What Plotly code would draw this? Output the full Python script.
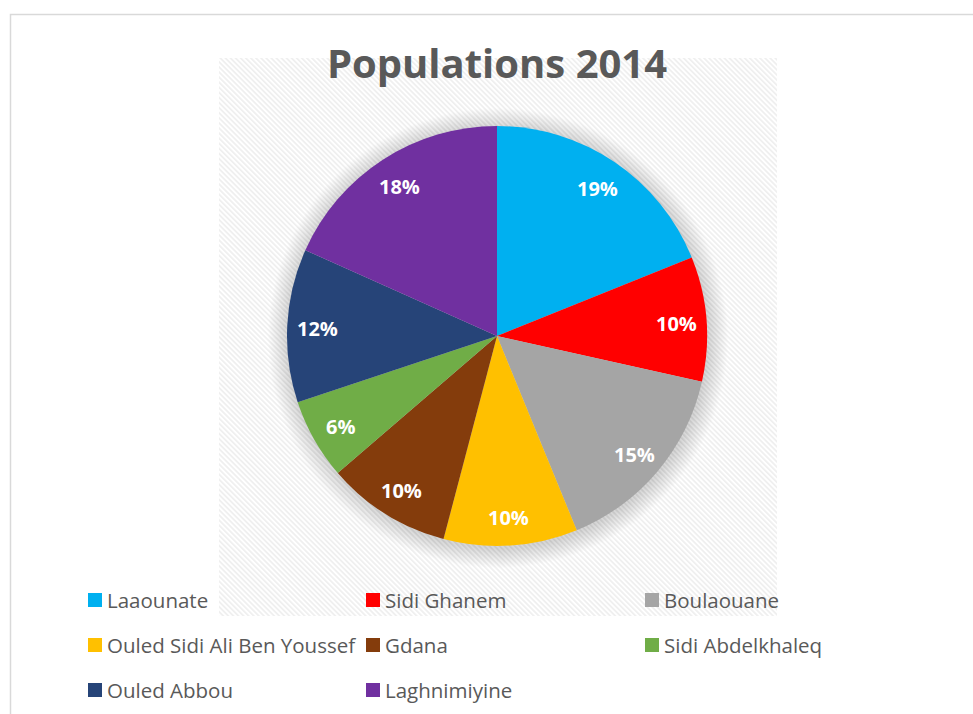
import base64
import math
import plotly.graph_objects as go

# Population share by commune, 2014 (percent of total)
communes = [
    "Laaounate",
    "Sidi Ghanem",
    "Boulaouane",
    "Ouled Sidi Ali Ben Youssef",
    "Gdana",
    "Sidi Abdelkhaleq",
    "Ouled Abbou",
    "Laghnimiyine",
]
shares = [18.9, 9.6, 15.3, 10.3, 9.6, 6.2, 11.8, 18.3]
slice_colors = [
    "#00b0f0",
    "#ff0000",
    "#a5a5a5",
    "#ffc000",
    "#843c0c",
    "#70ad47",
    "#264478",
    "#7030a0",
]
chart_title = "Populations 2014"

W, H = 973, 714


def px_x(v):
    return v / W


def px_y(v):
    return 1 - v / H


# pie geometry in pixels
cx, cy, R = 497, 336, 210
label_r = 180

fig = go.Figure()
fig.add_trace(
    go.Pie(
        labels=communes,
        values=shares,
        sort=False,
        direction="clockwise",
        rotation=0,
        marker=dict(colors=slice_colors, line=dict(width=0)),
        textinfo="none",
        showlegend=False,
        hoverinfo="label+percent",
        domain=dict(x=[px_x(cx - R), px_x(cx + R)], y=[px_y(cy + R), px_y(cy - R)]),
    )
)

# diagonal hatch for the plot-area background
hx0, hy0, hx1, hy1 = 219, 58, 777, 616
hw, hh = hx1 - hx0, hy1 - hy0
svg = (
    f'<svg xmlns="http://www.w3.org/2000/svg" width="{hw}" height="{hh}" '
    f'viewBox="0 0 {hw} {hh}" preserveAspectRatio="none">'
    '<defs><pattern id="h" patternUnits="userSpaceOnUse" width="3.6" height="3.6" '
    'patternTransform="rotate(-45)">'
    '<rect x="0" y="0" width="1.7" height="3.6" fill="#efefef"/></pattern></defs>'
    f'<rect width="{hw}" height="{hh}" fill="#ffffff"/>'
    f'<rect width="{hw}" height="{hh}" fill="url(#h)"/></svg>'
)
src = "data:image/svg+xml;base64," + base64.b64encode(svg.encode()).decode()

shapes = []
# soft outer shadow around the pie
for k in range(1, 21):
    r = R + k
    shapes.append(
        dict(
            type="circle",
            xref="paper",
            yref="paper",
            x0=px_x(cx - r + 1),
            x1=px_x(cx + r + 1),
            y0=px_y(cy + r + 2),
            y1=px_y(cy - r + 2),
            fillcolor="rgba(0,0,0,0.009)",
            line=dict(width=0),
            layer="below",
        )
    )

# chart border
shapes.append(
    dict(
        type="rect",
        xref="paper",
        yref="paper",
        x0=px_x(10.5),
        x1=px_x(W + 5),
        y0=px_y(H + 5),
        y1=px_y(14.5),
        line=dict(color="#d9d9d9", width=1.5),
        fillcolor="rgba(0,0,0,0)",
        layer="above",
    )
)

annotations = []

# percentage labels placed at each slice's mid-angle
total = sum(shares)
cum = 0.0
for v in shares:
    mid = (cum + v / 2) / total * 2 * math.pi
    cum += v
    lx = cx + label_r * math.sin(mid)
    ly = cy + 2 - label_r * math.cos(mid)
    annotations.append(
        dict(
            text=f"{round(100 * v / total)}%",
            xref="paper",
            yref="paper",
            x=px_x(lx),
            y=px_y(ly),
            xanchor="center",
            yanchor="middle",
            showarrow=False,
            font=dict(family="Open Sans", size=20, color="white", weight="bold"),
        )
    )

# legend: three columns of swatch + name
col_swatch = [88, 366, 645]
col_text = [105, 383, 662]
row_y = [600, 645, 690]
sw = 14
for i, (name, colr) in enumerate(zip(communes, slice_colors)):
    r_i, c_i = divmod(i, 3)
    x0 = col_swatch[c_i]
    yc = row_y[r_i]
    shapes.append(
        dict(
            type="rect",
            xref="paper",
            yref="paper",
            x0=px_x(x0),
            x1=px_x(x0 + sw),
            y0=px_y(yc + sw / 2),
            y1=px_y(yc - sw / 2),
            fillcolor=colr,
            line=dict(width=0),
        )
    )
    annotations.append(
        dict(
            text=name,
            xref="paper",
            yref="paper",
            x=px_x(col_text[c_i]),
            y=px_y(yc),
            xanchor="left",
            yanchor="middle",
            showarrow=False,
            font=dict(family="Open Sans", size=20.5, color="#595959"),
        )
    )

fig.update_layout(
    width=W,
    height=H,
    margin=dict(l=0, r=0, t=0, b=0),
    paper_bgcolor="white",
    plot_bgcolor="white",
    title=dict(
        text=chart_title,
        x=px_x(497),
        y=px_y(64),
        xanchor="center",
        yanchor="middle",
        font=dict(family="Open Sans", size=40, color="#595959", weight="bold"),
    ),
    images=[
        dict(
            source=src,
            xref="paper",
            yref="paper",
            x=px_x(hx0),
            y=px_y(hy0),
            sizex=hw / W,
            sizey=hh / H,
            xanchor="left",
            yanchor="top",
            sizing="stretch",
            layer="below",
        )
    ],
    shapes=shapes,
    annotations=annotations,
)

fig.write_html("out.html")
